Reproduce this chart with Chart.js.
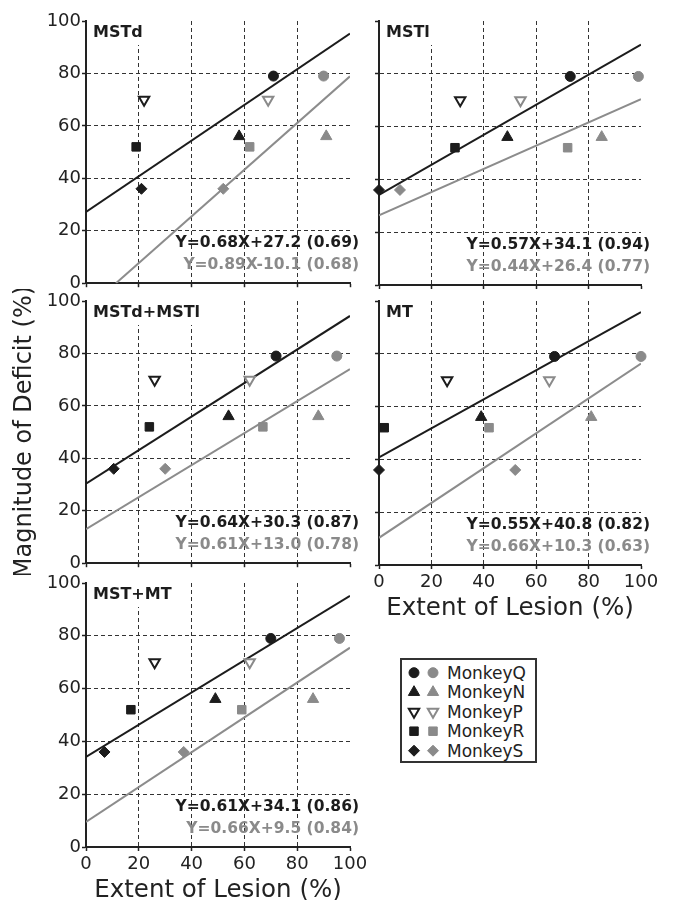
<!DOCTYPE html>
<html>
<head>
<meta charset="utf-8">
<script src="https://cdn.jsdelivr.net/npm/chart.js@4.4.1/dist/chart.umd.min.js"></script>
<style>
  html, body { margin: 0; padding: 0; background: #fff; width: 676px; height: 900px; overflow: hidden; }
  canvas.panel { position: absolute; }
  #legend { position: absolute; left: 400px; top: 658px; width: 133px; height: 101px; border: 2px solid #333; background: #fff; }
  #legend canvas { position: absolute; left: 0; top: 0; }
  #legend span { position: absolute; left: 45px; font: 17px "DejaVu Sans", Verdana, sans-serif; color: #222; line-height: 20px; white-space: nowrap; }
</style>
</head>
<body>
<canvas class="panel" id="p0"></canvas>
<canvas class="panel" id="p1"></canvas>
<canvas class="panel" id="p2"></canvas>
<canvas class="panel" id="p3"></canvas>
<canvas class="panel" id="p4"></canvas>
<div id="legend"><canvas id="legendMarks" width="44" height="101"></canvas></div>
<script>
// === Dados ===
const panelNames = ['MSTd', 'MSTl', 'MSTd+MSTl', 'MT', 'MST+MT'];
const monkeys = ['MonkeyQ', 'MonkeyN', 'MonkeyP', 'MonkeyR', 'MonkeyS'];
const deficitBlack = [79, 56, 70, 52, 36];
const deficitGray = [79, 56, 70, 52, 36];

// extent of lesion per monkey (Q, N, P, R, S)
const lesionMSTdBlack = [71, 58, 22, 19, 21];
const lesionMSTdGray = [90, 91, 69, 62, 52];
const lesionMSTlBlack = [73, 49, 31, 29, 0];
const lesionMSTlGray = [99, 85, 54, 72, 8];
const lesionBothBlack = [72, 54, 26, 24, 10.5];
const lesionBothGray = [95, 88, 62, 67, 30];
const lesionMTBlack = [67, 39, 26, 2, 0];
const lesionMTGray = [100, 81, 65, 42, 52];
const lesionMSTMTBlack = [70, 49, 26, 17, 7];
const lesionMSTMTGray = [96, 86, 62, 59, 37];

const slopeBlack = [0.68, 0.57, 0.64, 0.55, 0.61];
const interceptBlack = [27.2, 34.1, 30.3, 40.8, 34.1];
const corrBlack = ['0.69', '0.94', '0.87', '0.82', '0.86'];
const slopeGray = [0.89, 0.44, 0.61, 0.66, 0.66];
const interceptGray = [-10.1, 26.4, 13.0, 10.3, 9.5];
const corrGray = ['0.68', '0.77', '0.78', '0.63', '0.84'];

const axisTicks = [0, 20, 40, 60, 80, 100];

// === Estilos ===
const INK = '#1c1c1c';
const GREY = '#8a8a8a';
const FONT = '"DejaVu Sans", Verdana, sans-serif';
const markerStyle = ['circle', 'triangle', 'triangle', 'rect', 'rectRot'];
const markerRotation = [0, 0, 180, 0, 0];
const markerRadius = [5, 6.5, 6, 6, 5.5];
const markerOpen = [false, false, true, false, false];

// plot area of each panel (left, top) in page pixels
const panelLeft = [86, 379, 86, 379, 86];
const panelTop = [21, 21, 301, 301, 583];

Chart.defaults.font.family = FONT;
Chart.defaults.color = '#222';

const blackX = [lesionMSTdBlack, lesionMSTlBlack, lesionBothBlack, lesionMTBlack, lesionMSTMTBlack];
const grayX = [lesionMSTdGray, lesionMSTlGray, lesionBothGray, lesionMTGray, lesionMSTMTGray];

function eqText(m, b) {
  return 'Y=' + m.toFixed(2) + 'X' + (b < 0 ? '-' : '+') + Math.abs(b).toFixed(1);
}

function fitLine(m, b) {
  const x0 = b < 0 ? -b / m : 0;
  return [{x: x0, y: m * x0 + b}, {x: 100, y: m * 100 + b}];
}

function pointSet(xs, ys, color) {
  return {
    data: xs.map((v, i) => ({x: v, y: ys[i]})),
    pointStyle: markerStyle,
    pointRotation: markerRotation,
    pointRadius: markerRadius,
    pointHoverRadius: markerRadius,
    pointBackgroundColor: markerOpen.map(o => o ? '#fff' : color),
    pointBorderColor: color,
    pointBorderWidth: markerOpen.map(o => o ? 2 : 1),
    showLine: false,
    clip: false,
    order: 0
  };
}

function lineSet(m, b, color) {
  return {
    data: fitLine(m, b),
    showLine: true,
    borderColor: color,
    borderWidth: 2,
    pointRadius: 0,
    order: 1
  };
}

const panelText = {
  id: 'panelText',
  afterDatasetsDraw(chart, args, o) {
    const {ctx, chartArea: a} = chart;
    ctx.save();
    ctx.textBaseline = 'middle';
    ctx.font = 'bold 16px ' + FONT;
    const w = ctx.measureText(o.name).width;
    ctx.fillStyle = '#fff';
    ctx.fillRect(a.left + 2, a.top, w + 9, 24);
    ctx.fillStyle = INK;
    ctx.fillText(o.name, a.left + 7, a.top + 12);

    ctx.font = 'bold 15.5px ' + FONT;
    ctx.textAlign = 'right';
    const xr = a.right + 9;
    o.rows.forEach(r => {
      const yy = a.bottom - r.up;
      ctx.fillStyle = r.color;
      const tail = '(' + r.corr + ')';
      ctx.fillText(tail, xr, yy);
      const tw = ctx.measureText(tail).width + ctx.measureText(' ').width;
      ctx.fillText(r.eq, xr - tw, yy);
    });
    ctx.restore();
  }
};

function buildPanel(i) {
  const right = i % 2 === 1;
  const withX = i >= 3;
  const yW = right ? 19 : 86;
  const padR = right ? 35 : 22;
  const plotW = right ? 262 : 264;
  const plotH = 264;
  const padT = 12;
  const xH = withX ? 66 : 10;

  const cv = document.getElementById('p' + i);
  cv.width = yW + plotW + padR;
  cv.height = padT + plotH + xH;
  cv.style.left = (panelLeft[i] - yW) + 'px';
  cv.style.top = (panelTop[i] - padT) + 'px';

  const gridColor = c => (c.tick && (c.tick.value === 0 || c.tick.value === 100)) ? 'rgba(0,0,0,0)' : '#333';

  new Chart(cv, {
    type: 'scatter',
    data: {
      datasets: [
        pointSet(blackX[i], deficitBlack, INK),
        pointSet(grayX[i], deficitGray, GREY),
        lineSet(slopeBlack[i], interceptBlack[i], INK),
        lineSet(slopeGray[i], interceptGray[i], '#8c8c8c')
      ]
    },
    options: {
      responsive: false,
      animation: false,
      devicePixelRatio: 1,
      layout: {padding: {top: padT, right: padR, left: 0, bottom: 0}},
      plugins: {
        legend: {display: false},
        tooltip: {enabled: false},
        panelText: {
          name: panelNames[i],
          rows: [
            {eq: eqText(slopeBlack[i], interceptBlack[i]), corr: corrBlack[i], color: INK, up: 40},
            {eq: eqText(slopeGray[i], interceptGray[i]), corr: corrGray[i], color: GREY, up: 18}
          ]
        }
      },
      scales: {
        x: {
          type: 'linear', min: 0, max: 100,
          afterBuildTicks: s => { s.ticks = axisTicks.map(v => ({value: v})); },
          afterFit: s => { s.height = xH; },
          ticks: {display: withX, font: {size: 18}, color: '#222', padding: 3, maxRotation: 0, autoSkip: false},
          grid: {color: gridColor, lineWidth: 1, tickLength: 4, tickColor: '#222', tickWidth: 1.5},
          border: {display: true, color: '#222', width: 2, dash: [4, 3]},
          title: {display: withX, text: 'Extent of Lesion (%)', font: {size: 24.5}, color: '#222', padding: {top: 0, bottom: 8}}
        },
        y: {
          type: 'linear', min: 0, max: 100,
          afterBuildTicks: s => { s.ticks = axisTicks.map(v => ({value: v})); },
          afterFit: s => { s.width = yW; },
          ticks: {display: !right, font: {size: 18}, color: '#222', padding: 1},
          grid: {color: gridColor, lineWidth: 1, tickLength: 4, tickColor: '#222', tickWidth: 1.5},
          border: {display: true, color: '#222', width: 2, dash: [4, 3]},
          title: {display: i === 2, text: 'Magnitude of Deficit (%)', font: {size: 24}, color: '#222', padding: {top: 10.5, bottom: 0}}
        }
      }
    },
    plugins: [panelText]
  });
}

for (let i = 0; i < panelNames.length; i++) buildPanel(i);

// === Legenda ===
(function buildLegend() {
  const box = document.getElementById('legend');
  const cv = document.getElementById('legendMarks');
  const ctx = cv.getContext('2d');
  const rowY = [12.7, 32.2, 51.7, 71.2, 90.7];
  const draw = Chart.helpers && Chart.helpers.drawPoint;
  monkeys.forEach((name, i) => {
    [[12, INK], [31, GREY]].forEach(([x, color]) => {
      ctx.fillStyle = markerOpen[i] ? '#fff' : color;
      ctx.strokeStyle = color;
      ctx.lineWidth = markerOpen[i] ? 2 : 1;
      if (draw) {
        draw(ctx, {pointStyle: markerStyle[i], rotation: markerRotation[i], radius: markerRadius[i], borderWidth: markerOpen[i] ? 2 : 1}, x, rowY[i]);
      }
    });
    const s = document.createElement('span');
    s.textContent = name;
    s.style.top = (rowY[i] - 10) + 'px';
    box.appendChild(s);
  });
})();
</script>
</body>
</html>
